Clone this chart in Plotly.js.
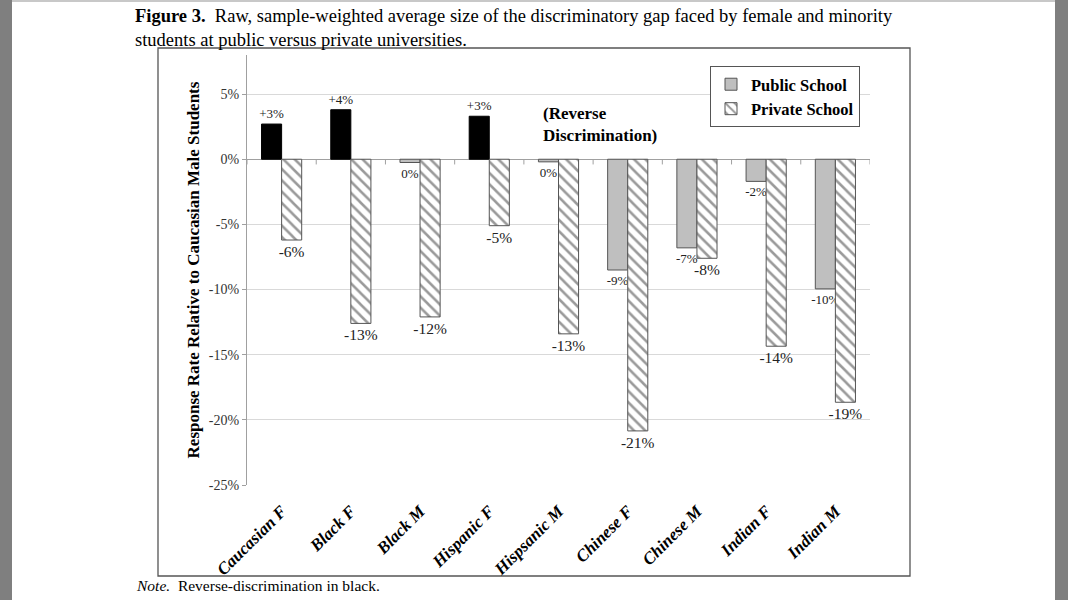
<!DOCTYPE html>
<html>
<head>
<meta charset="utf-8">
<script src="https://cdn.plot.ly/plotly-3.0.1.min.js"></script>
<style>
  html, body { margin: 0; padding: 0; background: #ffffff; }
  #wrap { position: relative; width: 1068px; height: 600px; overflow: hidden; }
  #chart { position: absolute; left: 0; top: 0; width: 1068px; height: 600px; }
  .edgeL { position: absolute; left: 0; top: 0; width: 12px; height: 600px; background: #7f7f7f; }
  .edgeR { position: absolute; left: 1055px; top: 0; width: 13px; height: 600px; background: #7f7f7f; }
  .edgeT { position: absolute; left: 0; top: 0; width: 1068px; height: 2px; background: #c8c8c8; }
</style>
</head>
<body>
<div id="wrap">
  <div id="chart"></div>
  <div class="edgeT"></div>
  <div class="edgeL"></div>
  <div class="edgeR"></div>
</div>
<script>
// ---- data (percent units) ----
const categories = ['Caucasian F', 'Black F', 'Black M', 'Hispanic F', 'Hispsanic M',
                    'Chinese F', 'Chinese M', 'Indian F', 'Indian M'];
const publicValues  = [2.7, 3.8, -0.25, 3.3, -0.2, -8.5, -6.8, -1.7, -9.95];
const privateValues = [-6.2, -12.6, -12.1, -5.1, -13.4, -20.85, -7.6, -14.35, -18.65];
const publicLabels  = ['+3%', '+4%', '0%', '+3%', '0%', '-9%', '-7%', '-2%', '-10%'];
const privateLabels = ['-6%', '-13%', '-12%', '-5%', '-13%', '-21%', '-8%', '-14%', '-19%'];
const yTickVals  = [5, 0, -5, -10, -15, -20, -25];
const yTickText  = ['5%', '0%', '-5%', '-10%', '-15%', '-20%', '-25%'];

const serif = 'Liberation Serif, Times New Roman, serif';

// split public series: reverse discrimination (positive) drawn in black
const pubGreyY = publicValues.map(v => v <= 0 ? v : null);
const pubGreyT = publicValues.map((v, i) => v <= 0 ? publicLabels[i] : '');
const pubBlackY = publicValues.map(v => v > 0 ? v : null);
const pubBlackT = publicValues.map((v, i) => v > 0 ? publicLabels[i] : '');

const traces = [
  {
    type: 'bar', name: 'Public School', x: categories, y: pubGreyY,
    offsetgroup: 'pub', text: pubGreyT, textposition: 'outside',
    textfont: {family: serif, size: 13, color: '#222'}, cliponaxis: false,
    constraintext: 'none',
    marker: {color: '#bfbfbf', line: {color: '#555555', width: 1}},
    hoverinfo: 'x+y'
  },
  {
    type: 'bar', name: 'Public School (reverse)', x: categories, y: pubBlackY,
    offsetgroup: 'pub', text: pubBlackT, textposition: 'outside', showlegend: false,
    textfont: {family: serif, size: 13, color: '#222'}, cliponaxis: false,
    constraintext: 'none',
    marker: {color: '#000000', line: {color: '#000000', width: 1}},
    hoverinfo: 'x+y'
  },
  {
    type: 'bar', name: 'Private School', x: categories, y: privateValues,
    offsetgroup: 'priv', text: privateLabels, textposition: 'outside',
    textfont: {family: serif, size: 15.5, color: '#222'}, cliponaxis: false,
    constraintext: 'none',
    marker: {color: '#ffffff', line: {color: '#555555', width: 1},
             pattern: {shape: '\\', fgcolor: '#9a9a9a', bgcolor: '#ffffff', size: 8, solidity: 0.32}},
    hoverinfo: 'x+y'
  }
];

// small tick marks on the zero line at category boundaries
const shapes = [];
for (let i = 0; i <= categories.length; i++) {
  shapes.push({type: 'line', xref: 'x', yref: 'y', x0: i - 0.5, x1: i - 0.5, y0: 0, y1: -0.4,
               line: {color: '#a0a0a0', width: 1}});
}
// outer frame around the figure (paper coords relative to plot area)
const plotL = 247, plotR = 870, plotT = 55, plotB = 485;
const pw = plotR - plotL, ph = plotB - plotT;
const px = v => (v - plotL) / pw;
const py = v => (plotB - v) / ph;
shapes.push({type: 'rect', xref: 'paper', yref: 'paper', x0: px(158), x1: px(910), y0: py(576), y1: py(48),
             line: {color: '#555555', width: 1.3}, fillcolor: 'rgba(0,0,0,0)', layer: 'below'});

const layout = {
  width: 1068, height: 600,
  margin: {l: plotL, r: 1068 - plotR, t: plotT, b: 600 - plotB, pad: 0},
  paper_bgcolor: '#ffffff', plot_bgcolor: '#ffffff',
  barmode: 'group', bargap: 0.42, bargroupgap: 0,
  showlegend: true,
  font: {family: serif, color: '#000'},
  xaxis: {
    type: 'category', range: [-0.5, categories.length - 0.5],
    showgrid: false, showline: false, zeroline: false, ticks: '',
    tickangle: -45, ticklabelstandoff: 12,
    tickfont: {family: serif, size: 17, color: '#000', weight: 'bold', style: 'italic'},
    fixedrange: true
  },
  yaxis: {
    range: [-25, 8], tickvals: yTickVals, ticktext: yTickText,
    showgrid: true, gridcolor: '#d9d9d9', gridwidth: 1,
    zeroline: true, zerolinecolor: '#a0a0a0', zerolinewidth: 1,
    showline: true, linecolor: '#a0a0a0', linewidth: 1,
    ticks: 'outside', ticklen: 4, tickcolor: '#a0a0a0',
    tickfont: {family: serif, size: 14, color: '#333'},
    title: {text: '<b>Response Rate Relative to Caucasian Male Students</b>',
            font: {family: serif, size: 17, color: '#000'}, standoff: 4},
    fixedrange: true
  },
  legend: {
    x: px(710), xanchor: 'left', y: py(66), yanchor: 'top',
    bgcolor: '#ffffff', bordercolor: '#555555', borderwidth: 1,
    font: {family: serif, size: 16.5, color: '#000', weight: 'bold'},
    traceorder: 'normal', itemclick: false, itemdoubleclick: false,
    itemwidth: 30
  },
  shapes: shapes,
  annotations: [
    {
      text: '<b>Figure 3.</b>  Raw, sample-weighted average size of the discriminatory gap faced by female and minority<br>students at public versus private universities.',
      xref: 'paper', yref: 'paper', x: px(133), y: py(4), xanchor: 'left', yanchor: 'top',
      align: 'left', showarrow: false,
      font: {family: serif, size: 18.5, color: '#000'}
    },
    {
      text: '<b>(Reverse<br>Discrimination)</b>', xref: 'x', yref: 'y',
      x: 3.74, y: 4.4, xanchor: 'left', yanchor: 'top', align: 'left', showarrow: false,
      font: {family: serif, size: 17, color: '#000'}
    },
    {
      text: '<i>Note.</i>  Reverse-discrimination in black.', xref: 'paper', yref: 'paper',
      x: px(134), y: py(585), xanchor: 'left', yanchor: 'middle', showarrow: false,
      font: {family: serif, size: 15.5, color: '#000'}
    }
  ]
};

Plotly.newPlot('chart', traces, layout, {displayModeBar: false});
</script>
</body>
</html>
